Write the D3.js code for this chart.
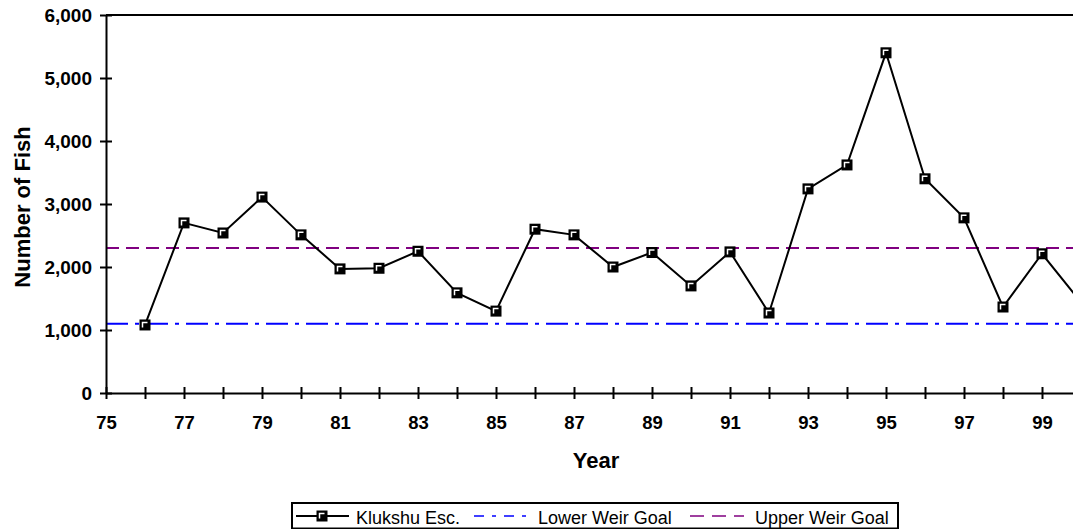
<!DOCTYPE html>
<html><head><meta charset="utf-8">
<script src="https://cdn.jsdelivr.net/npm/d3@7"></script>
<style>body{margin:0;background:#fff}svg{display:block;font-family:Arial,"Liberation Sans",sans-serif}</style>
</head><body><svg id="c" width="1073" height="529"></svg>
<script>
const years = [76,77,78,79,80,81,82,83,84,85,86,87,88,89,90,91,92,93,94,95,96,97,98,99,100];
const klukshu = [1080,2700,2540,3110,2510,1970,1980,2250,1590,1300,2600,2510,2000,2230,1700,2240,1270,3240,3620,5400,3400,2780,1365,2210,1440];
const lowerGoal = 1100;
const upperGoal = 2300;
const xTicks = [75,76,77,78,79,80,81,82,83,84,85,86,87,88,89,90,91,92,93,94,95,96,97,98,99,100];
const xLabels = [75,77,79,81,83,85,87,89,91,93,95,97,99];
const yTicks = [0,1000,2000,3000,4000,5000,6000];

const svg = d3.select("#c");
const x = d3.scaleLinear().domain([75,100]).range([106,1081]);
const y = d3.scaleLinear().domain([0,6000]).range([393,15]);
const FONT = "Arial, Liberation Sans, sans-serif";

// top border
svg.append("line").attr("x1",106).attr("x2",1073).attr("y1",15).attr("y2",15).attr("stroke","#000").attr("stroke-width",2);

// goal lines
svg.append("line").attr("x1",x(75)).attr("x2",1073).attr("y1",y(upperGoal)).attr("y2",y(upperGoal))
  .attr("stroke","#800080").attr("stroke-width",2).attr("stroke-dasharray","13,7");
svg.append("line").attr("x1",x(75)).attr("x2",1073).attr("y1",y(lowerGoal)).attr("y2",y(lowerGoal))
  .attr("stroke","#0000ff").attr("stroke-width",2).attr("stroke-dasharray","22,7,4,7");

// axes
const yAxis = svg.append("g").attr("transform","translate(106,0)")
  .call(d3.axisLeft(y).tickValues(yTicks).tickFormat(d3.format(",")).tickSize(6).tickSizeOuter(0));
yAxis.select(".domain").attr("stroke-width",2);
yAxis.selectAll(".tick line").attr("stroke-width",2).attr("x2",6).attr("x1",-6);
yAxis.selectAll(".tick text").attr("x",-14).attr("font-size",19).attr("font-weight","bold").attr("font-family",FONT).attr("fill","#000");

const xAxis = svg.append("g").attr("transform","translate(0,393)")
  .call(d3.axisBottom(x).tickValues(xTicks).tickFormat(d => xLabels.includes(d) ? d : "").tickSize(6).tickSizeOuter(0));
xAxis.select(".domain").attr("stroke-width",2);
xAxis.selectAll(".tick line").attr("stroke-width",2).attr("y1",-6).attr("y2",6);
xAxis.selectAll(".tick text").attr("y",23).attr("font-size",18.5).attr("font-weight","bold").attr("font-family",FONT).attr("fill","#000");

// data line
const line = d3.line().x((d,i)=>x(years[i])).y(d=>y(d));
svg.append("path").datum(klukshu).attr("d",line).attr("fill","none").attr("stroke","#000").attr("stroke-width",2);

function marker(g, cx, cy){
  g.append("rect").attr("x",cx-5.5).attr("y",cy-5.5).attr("width",11).attr("height",11).attr("fill","#000");
  g.append("path").attr("d",`M${cx-2.5},${cy+2.5}V${cy-2.5}H${cx+2.5}`).attr("stroke","#fff").attr("stroke-width",1.5).attr("fill","none");
}
const mg = svg.append("g");
klukshu.forEach((v,i)=> marker(mg, x(years[i]), y(v)));

// axis titles
svg.append("text").attr("transform","translate(30,207) rotate(-90)").attr("text-anchor","middle")
  .attr("font-size",22).attr("font-weight","bold").text("Number of Fish");
svg.append("text").attr("x",596).attr("y",468).attr("text-anchor","middle")
  .attr("font-size",22).attr("font-weight","bold").text("Year");

// legend
const lg = svg.append("g");
lg.append("rect").attr("x",292).attr("y",503).attr("width",606).attr("height",25.5).attr("fill","#fff").attr("stroke","#000").attr("stroke-width",2);
lg.append("line").attr("x1",296).attr("x2",349).attr("y1",516).attr("y2",516).attr("stroke","#000").attr("stroke-width",2);
marker(lg, 322, 516);
lg.append("text").attr("x",356).attr("y",524).attr("font-size",18).text("Klukshu Esc.");
lg.append("line").attr("x1",474).attr("x2",531).attr("y1",516).attr("y2",516).attr("stroke","#0000ff").attr("stroke-width",1.5).attr("stroke-dasharray","10,8,4,8");
lg.append("text").attr("x",538).attr("y",524).attr("font-size",18).text("Lower Weir Goal");
lg.append("line").attr("x1",690).attr("x2",744).attr("y1",516).attr("y2",516).attr("stroke","#800080").attr("stroke-width",1.5).attr("stroke-dasharray","14,8");
lg.append("text").attr("x",755).attr("y",524).attr("font-size",18).text("Upper Weir Goal");
</script></body></html>
